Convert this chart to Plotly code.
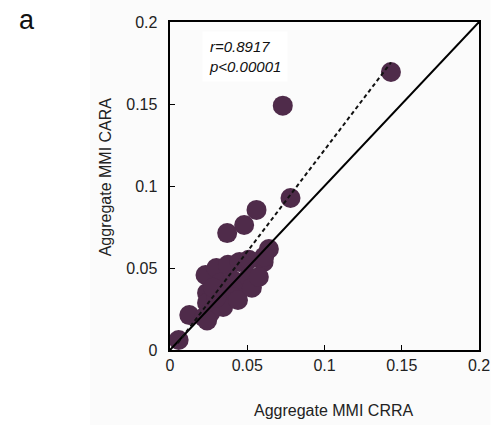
import plotly.graph_objects as go

# Data (Aggregate MMI CRRA vs CARA)
crra = [0.0056, 0.0125, 0.073, 0.143, 0.078, 0.056, 0.048, 0.037, 0.064, 0.0606,
        0.023, 0.030, 0.0375, 0.045, 0.051, 0.061, 0.024, 0.024, 0.0325, 0.0406,
        0.047, 0.051, 0.0406, 0.0344, 0.026, 0.022, 0.024, 0.044, 0.053, 0.0575,
        0.030, 0.028]
cara = [0.0061, 0.0213, 0.149, 0.1695, 0.0927, 0.0854, 0.0762, 0.0713, 0.0616, 0.0537,
        0.0457, 0.050, 0.052, 0.0537, 0.055, 0.057, 0.0348, 0.0287, 0.041, 0.0427,
        0.0384, 0.0445, 0.0323, 0.0262, 0.0226, 0.020, 0.018, 0.0305, 0.038, 0.0445,
        0.032, 0.038]

identity_x = [0.0, 0.2]
identity_y = [0.0, 0.2]
fit_x = [0.005, 0.143]
fit_y = [0.0042, 0.1753]

tick_vals = [0, 0.05, 0.1, 0.15, 0.2]
tick_text = ["0", "0.05", "0.1", "0.15", "0.2"]

stat_text = "<i>r=0.8917</i><br><i>p<0.00001</i>"

FONT = "Liberation Sans, Arial, sans-serif"
MARKER = "#4f2b4a"

fig = go.Figure()
fig.add_trace(go.Scatter(x=crra, y=cara, mode="markers",
                         marker=dict(size=20, color=MARKER, line=dict(width=0)),
                         showlegend=False, hoverinfo="x+y"))
fig.add_trace(go.Scatter(x=identity_x, y=identity_y, mode="lines",
                         line=dict(color="black", width=2), showlegend=False))
fig.add_trace(go.Scatter(x=fit_x, y=fit_y, mode="lines",
                         line=dict(color="#111111", width=2, dash="4px,3px"),
                         showlegend=False))

L, R, T, B = 170, 12, 22, 75
PW, PH = 502 - L - R, 425 - T - B

def px_x(p):
    return (p - L) / PW

def px_y(p):
    return (425 - B - p) / PH

axis_common = dict(range=[0, 0.2], tickvals=tick_vals,
                   showgrid=False, zeroline=False, showline=True, mirror=True,
                   linecolor="black", linewidth=1.5, ticks="inside", ticklen=5,
                   tickcolor="black", tickwidth=1.2,
                   tickfont=dict(family=FONT, size=16, color="#222222"))

fig.update_layout(
    width=502, height=425,
    margin=dict(l=L, r=R, t=T, b=B, pad=0),
    paper_bgcolor="white", plot_bgcolor="#fdfdfd",
    xaxis=dict(**axis_common, ticktext=tick_text),
    yaxis=dict(**axis_common, ticktext=[t + "\u00a0\u2009" for t in tick_text]),
    font=dict(family=FONT, color="#222222"),
    shapes=[dict(type="rect", xref="paper", yref="paper",
                 x0=px_x(87), x1=px_x(502), y0=px_y(425), y1=px_y(0),
                 fillcolor="#fbfbfb", line=dict(width=0), layer="below")],
    annotations=[
        dict(text=stat_text, xref="paper", yref="paper", x=px_x(203), y=px_y(57),
             xanchor="left", yanchor="middle", align="left", showarrow=False,
             font=dict(family=FONT, size=15, color="#111111"),
             bgcolor="white", borderpad=6),
        dict(text="Aggregate MMI CRRA", xref="paper", yref="paper",
             x=px_x(339), y=px_y(410), xanchor="center", yanchor="middle",
             showarrow=False, font=dict(family=FONT, size=16, color="#222222")),
        dict(text="Aggregate MMI CARA", xref="paper", yref="paper",
             x=px_x(103), y=px_y(177), xanchor="center", yanchor="middle",
             textangle=-90, showarrow=False,
             font=dict(family=FONT, size=16, color="#222222")),
        dict(text="a", xref="paper", yref="paper", x=px_x(22), y=px_y(20),
             xanchor="center", yanchor="middle", showarrow=False,
             font=dict(family=FONT, size=27, color="#111111")),
    ],
)

fig.write_html("out.html")
